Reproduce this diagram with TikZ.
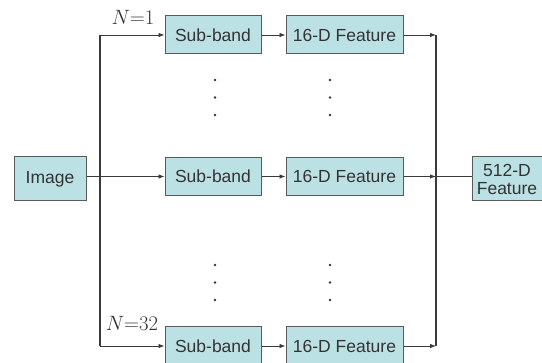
\documentclass[tikz,border=0pt]{standalone}
\usepackage{fontspec}
\setmainfont{Liberation Sans}
\usetikzlibrary{arrows.meta}
\definecolor{boxfill}{HTML}{BCE1E5}
\definecolor{boxline}{HTML}{5A5A5A}
\definecolor{txt}{HTML}{333333}
\definecolor{wire}{HTML}{3A3A3A}
\begin{document}
\begin{tikzpicture}[x=1pt,y=-1pt,
  blk/.style={draw=boxline,line width=1pt,fill=boxfill,text=txt,inner sep=0pt,
    font=\fontsize{17.5}{19}\selectfont,minimum height=38pt,align=center},
  sbbox/.style={blk,minimum width=96pt},
  ftbox/.style={blk,minimum width=117pt},
  wirel/.style={draw=wire,line width=0.8pt},
  vwire/.style={draw=wire,line width=1.2pt},
  arr/.style={wirel,-{Latex[length=6pt,width=4.5pt]}},
  lbl/.style={text=txt,font=\fontsize{20.5}{21}\selectfont,inner sep=0pt},
  dotc/.style={fill=txt,draw=none,circle,minimum size=2.6pt,inner sep=0pt}]
\useasboundingbox (0,0) rectangle (542,363);
\clip (0,0) rectangle (542,363);
% blocks
\node[blk,minimum width=72pt,minimum height=44pt] (img) at (50,179) {Image};
\node[sbbox] (sb1) at (213,35) {Sub-band};
\node[ftbox] (f1) at (344.5,35) {16-D Feature};
\node[sbbox] (sb2) at (213,176.5) {Sub-band};
\node[ftbox] (f2) at (344.5,176.5) {16-D Feature};
\node[sbbox] (sb3) at (213,346) {Sub-band};
\node[ftbox] (f3) at (344.5,346) {16-D Feature};
\node[blk,minimum width=70pt,minimum height=44pt] (out) at (507,179) {512-D\\[-1pt]Feature};
% split / join coordinates
\coordinate (L1) at (100,35);
\coordinate (L3) at (100,346);
\coordinate (R1) at (436,35);
\coordinate (R2) at (436,176.5);
\coordinate (R3) at (436,346);
% connectors
\draw[vwire] (L1) -- (L3);
\draw[arr] (L1) -- (sb1.west);
\draw[arr] (img.east |- sb2.west) -- (sb2.west);
\draw[arr] (L3) -- (sb3.west);
\draw[arr] (sb1.east) -- (f1.west);
\draw[arr] (sb2.east) -- (f2.west);
\draw[arr] (sb3.east) -- (f3.west);
\draw[arr] (f1.east) -- (R1);
\draw[arr] (f2.east) -- (R2);
\draw[arr] (f3.east) -- (R3);
\draw[vwire] (R1) -- (R3);
\draw[wirel] (R2) -- (out.west |- R2);
% labels
\node[lbl] (n1) at (133,17) {$N{=}1$};
\node[lbl] (n32) at (132,323) {$N{=}32$};
% dots
\foreach \yy [count=\i] in {80,97.5,115,265,282.5,300}{
  \node[dotc] (da\i) at (215,\yy) {};
  \node[dotc] (db\i) at (330,\yy) {};
}
\end{tikzpicture}
\end{document}
